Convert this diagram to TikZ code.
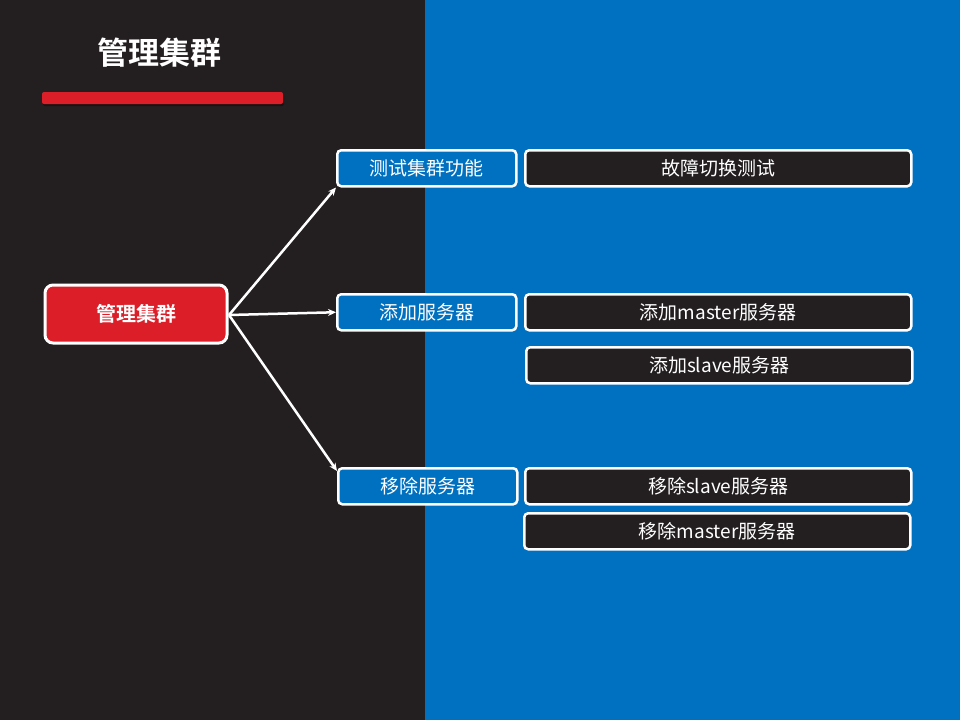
\documentclass[tikz,border=0pt]{standalone}
\usepackage{fontspec}
\setmainfont{Noto Sans CJK SC}
\newfontfamily\cjkbold{Noto Sans CJK SC Bold}
\usetikzlibrary{arrows.meta}
\definecolor{darkbg}{HTML}{231F20}
\definecolor{bluebg}{HTML}{0070C0}
\definecolor{redc}{HTML}{DC1E28}
\tikzset{
  x=1pt,y=-1pt,
  bluebox/.style={draw=white,line width=2.5pt,fill=bluebg,rounded corners=4pt,minimum width=179pt,minimum height=36pt,inner sep=0pt,text=white,font=\fontsize{19}{19}\selectfont,anchor=north west},
  darkbox/.style={draw=white,line width=2.5pt,fill=darkbg,rounded corners=4pt,minimum width=386pt,minimum height=36pt,inner sep=0pt,text=white,font=\fontsize{19}{19}\selectfont,anchor=north west},
  conn/.style={draw=white,line width=2.5pt,-{Stealth[length=8pt,width=7pt]}}
}
\begin{document}
\begin{tikzpicture}
\useasboundingbox (0,0) rectangle (960,720);
\fill[darkbg] (0,0) rectangle (425,720);
\fill[bluebg] (425,0) rectangle (960,720);
\node[text=white,font=\cjkbold\fontsize{31}{31}\selectfont] (title) at (159,53) {管理集群};
\fill[black!40!darkbg,rounded corners=2pt] (43,94) rectangle (284,106);
\fill[redc,rounded corners=2pt] (42,92) rectangle (283,104);
\node[draw=white,line width=3pt,fill=redc,rounded corners=8pt,minimum width=182pt,minimum height=58pt,inner sep=0pt,text=white,font=\cjkbold\fontsize{20}{20}\selectfont] (main) at (136,314) {管理集群};
\node[bluebox] (b1) at (336,149) {测试集群功能};
\node[bluebox] (b2) at (336,293) {添加服务器};
\node[bluebox] (b3) at (337,467) {移除服务器};
\node[darkbox] (d1) at (524,149) {故障切换测试};
\node[darkbox] (d2) at (524,293) {添加master服务器};
\node[darkbox] (d3) at (525,346) {添加slave服务器};
\node[darkbox] (d4) at (524,467) {移除slave服务器};
\node[darkbox] (d5) at (523,512) {移除master服务器};
\coordinate (s) at (229,315);
\draw[conn] (s) -- (b1.south west);
\draw[conn] (s) -- (b2.west);
\draw[conn] (s) -- ([yshift=-4pt]b3.north west);
\end{tikzpicture}
\end{document}
